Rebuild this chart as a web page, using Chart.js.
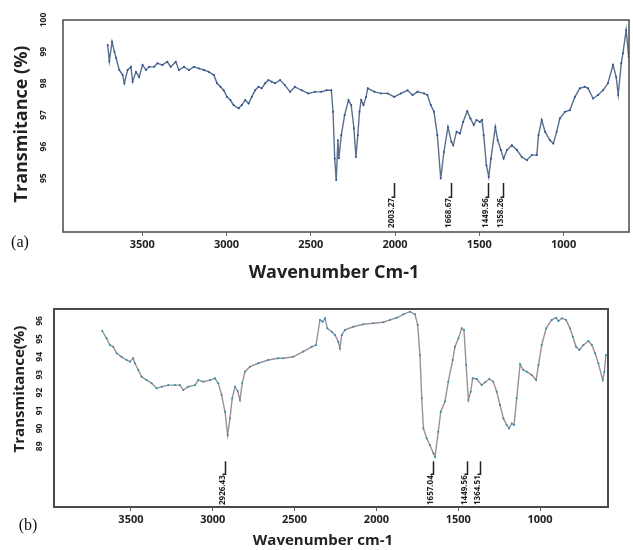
<!DOCTYPE html>
<html lang="en">
<head>
  <meta charset="UTF-8" />
  <title>FTIR spectra (a) and (b)</title>
  <script src="https://cdn.jsdelivr.net/npm/chart.js"></script>
  <style>
    body { margin: 0; background: #fff; width: 633px; height: 550px; position: relative; overflow: hidden }
    canvas { position: absolute; left: 0 }
    #chartA { top: 0 }
    #chartB { top: 285px }
  </style>
</head>
<body>
  <canvas id="chartA" width="633" height="285"></canvas>
  <canvas id="chartB" width="633" height="265"></canvas>

  <script>
    // ---- spectrum (a) ----
    const waveA = [3705,3695,3679,3665,3655,3636,3616,3606,3587,3567,3557,3537,3518,3498,3478,3459,3429,3410,3380,3351,
      3331,3301,3282,3252,3223,3193,3164,3134,3105,3075,3056,3036,3017,2997,2977,2958,2928,2909,2889,2869,
      2850,2830,2810,2791,2771,2751,2732,2712,2682,2653,2623,2594,2555,2515,2476,2437,2407,2378,2368,2358,
      2349,2339,2333,2319,2299,2276,2260,2244,2232,2221,2211,2201,2187,2172,2162,2122,2083,2044,2005,1965,
      1926,1896,1867,1828,1808,1788,1769,1749,1729,1710,1686,1666,1655,1635,1615,1596,1572,1553,1533,1517,
      1497,1484,1474,1458,1444,1431,1405,1391,1372,1356,1336,1307,1277,1248,1218,1189,1159,1149,1130,1110,
      1081,1061,1041,1022,992,963,933,904,874,855,825,796,766,737,707,688,676,658,648,629,614];
    const transA = [99.21,98.70,99.31,99.00,98.80,98.42,98.26,98.00,98.42,98.52,98.05,98.36,98.20,98.58,98.42,98.52,98.52,98.63,98.58,98.68,
      98.52,98.68,98.42,98.52,98.42,98.52,98.47,98.42,98.36,98.26,98.00,97.89,97.78,97.57,97.47,97.31,97.21,97.31,97.47,97.36,
      97.57,97.78,97.89,97.84,98.00,98.10,98.05,98.00,98.10,97.94,97.73,97.89,97.78,97.68,97.73,97.73,97.78,97.78,97.10,95.62,
      94.94,96.20,95.63,96.36,97.00,97.47,97.31,96.58,95.67,96.36,97.10,97.47,97.31,97.57,97.84,97.73,97.68,97.68,97.57,97.68,
      97.78,97.63,97.73,97.68,97.63,97.31,97.10,96.36,94.99,95.83,96.62,96.15,96.04,96.47,96.41,96.78,97.12,96.89,96.68,96.84,
      96.78,96.84,96.36,95.41,95.04,95.62,96.62,96.20,95.89,95.62,95.89,96.04,95.89,95.67,95.57,95.73,95.73,96.36,96.84,96.47,
      96.20,96.10,96.47,96.89,97.10,97.15,97.57,97.84,97.89,97.84,97.52,97.63,97.78,98.00,98.58,98.20,97.63,98.63,98.95,99.68,98.84];
    const yTicksA = [95, 96, 97, 98, 99, 100];
    const peaksA = [2003.27, 1668.67, 1449.56, 1358.26];

    // ---- spectrum (b) ----
    const waveB = [3675,3649,3628,3608,3587,3557,3526,3506,3486,3476,3455,3435,3404,3373,3343,3312,3272,3231,3200,3180,
      3150,3109,3089,3058,3017,2987,2966,2946,2925,2909,2895,2881,2864,2848,2834,2820,2803,2773,2722,2661,
      2600,2569,2508,2447,2396,2369,2345,2328,2314,2300,2273,2253,2233,2223,2212,2192,2141,2080,2019,1958,
      1917,1876,1836,1795,1764,1748,1734,1723,1713,1693,1673,1652,1642,1622,1607,1581,1561,1534,1520,1499,
      1479,1465,1452,1438,1424,1412,1387,1357,1336,1310,1286,1265,1245,1224,1204,1190,1173,1159,1143,1122,
      1102,1081,1051,1024,1010,990,963,929,902,888,867,841,817,800,780,760,735,705,684,664,644,617,607,598];
    const transB = [95.44,95.03,94.66,94.56,94.20,94.00,93.82,93.73,93.92,93.64,93.26,92.89,92.70,92.52,92.24,92.33,92.42,92.42,92.42,92.14,
      92.33,92.42,92.70,92.61,92.70,92.80,92.52,91.87,90.93,89.63,90.56,91.68,92.33,92.09,91.59,92.52,93.17,93.45,93.64,93.82,
      93.92,93.92,94.00,94.29,94.56,94.66,96.06,95.96,96.15,95.59,95.40,95.22,94.84,94.47,95.22,95.50,95.68,95.82,95.87,95.93,
      96.06,96.18,96.37,96.52,96.37,95.78,94.10,91.68,90.00,89.45,89.07,88.61,88.42,89.82,90.93,91.50,92.61,93.82,94.56,95.03,
      95.59,95.50,93.54,91.59,92.05,92.80,92.76,92.42,92.58,92.76,92.61,92.05,91.31,90.56,90.19,90.00,90.28,90.19,91.68,93.58,
      93.26,93.17,92.98,92.70,93.54,94.66,95.59,96.06,96.18,96.00,96.15,96.06,95.59,95.12,94.56,94.38,94.66,94.88,94.66,94.20,
      93.64,92.70,93.17,94.10];
    const yTicksB = [89, 90, 91, 92, 93, 94, 95, 96];
    const peaksB = [2926.43, 1657.04, 1449.56, 1364.51];

    const xTicks = [3500, 3000, 2500, 2000, 1500, 1000];

    // frame, rotated y labels, peak markers and titles
    const extras = {
      id: 'extras',
      afterDraw(chart, args, o) {
        const { ctx, chartArea: a, scales: { x, y } } = chart;
        ctx.save();
        ctx.strokeStyle = '#4a4a4a';
        ctx.lineWidth = o.frameWidth;
        ctx.strokeRect(a.left, a.top, a.right - a.left, a.bottom - a.top);

        ctx.fillStyle = '#1e1e1e';
        ctx.font = 'bold 8.5px "Open Sans"';
        ctx.textAlign = 'center';
        ctx.textBaseline = 'middle';
        o.yTicks.forEach(v => {
          ctx.save();
          ctx.translate(o.tickX, y.getPixelForValue(v));
          ctx.rotate(-Math.PI / 2);
          ctx.fillText(String(v), 0, 0);
          ctx.restore();
        });

        // peak markers
        const top = y.getPixelForValue(o.markTop), bot = y.getPixelForValue(o.markBottom);
        ctx.strokeStyle = '#222';
        ctx.lineWidth = 1.5;
        ctx.font = 'bold 8px "Open Sans"';
        ctx.textAlign = 'right';
        ctx.textBaseline = 'alphabetic';
        o.peaks.forEach(p => {
          const px = Math.round(x.getPixelForValue(p)) + 0.5;
          ctx.beginPath();
          ctx.moveTo(px, top); ctx.lineTo(px, bot); ctx.lineTo(px - 3, bot);
          ctx.stroke();
          ctx.save();
          ctx.translate(px - 1, bot + 1);
          ctx.rotate(-Math.PI / 2);
          ctx.fillText(p.toFixed(2), 0, 0);
          ctx.restore();
        });

        // titles
        ctx.fillStyle = '#222';
        ctx.textAlign = 'center';
        ctx.textBaseline = 'middle';
        ctx.font = o.titleFont;
        ctx.fillText(o.xTitle, o.xTitlePos[0], o.xTitlePos[1]);
        ctx.save();
        ctx.translate(o.yTitlePos[0], o.yTitlePos[1]);
        ctx.rotate(-Math.PI / 2);
        ctx.fillText(o.yTitle, 0, 0);
        ctx.restore();
        ctx.font = '16px "Liberation Serif"';
        ctx.fillStyle = '#111';
        ctx.fillText(o.panel, o.panelPos[0], o.panelPos[1]);
        ctx.restore();
      }
    };

    function makeChart(id, waves, trans, cfg) {
      new Chart(document.getElementById(id), {
        type: 'line',
        data: {
          datasets: [{
            data: waves.map((w, i) => ({ x: w, y: trans[i] })),
            borderColor: cfg.line,
            borderWidth: 1.4,
            pointRadius: 1,
            pointBackgroundColor: cfg.dots,
            pointBorderWidth: 0,
            tension: 0
          }]
        },
        options: {
          responsive: false,
          animation: false,
          layout: { padding: { top: cfg.padTop, right: cfg.padRight, left: 0, bottom: 0 } },
          plugins: { legend: { display: false }, tooltip: { enabled: false }, extras: cfg.extras },
          scales: {
            x: {
              type: 'linear',
              reverse: true,
              min: cfg.xMin,
              max: 3970,
              afterBuildTicks: s => { s.ticks = xTicks.map(v => ({ value: v })); },
              afterFit: s => { s.height = cfg.xHeight; },
              ticks: { callback: v => String(v), font: { family: 'Open Sans', weight: 'bold', size: 11 }, color: '#222', padding: 2, maxRotation: 0 },
              grid: { drawOnChartArea: false, tickLength: 4, color: '#666' },
              border: { display: false }
            },
            y: {
              min: cfg.yMin,
              max: cfg.yMax,
              afterFit: s => { s.width = cfg.yWidth; },
              ticks: { display: false },
              grid: { display: false },
              border: { display: false }
            }
          }
        },
        plugins: [extras]
      });
    }

    makeChart('chartA', waveA, transA, {
      line: '#5a6f8c', dots: '#26509a', padTop: 20, padRight: 0, xMin: 612, xHeight: 53, yWidth: 63,
      yMin: 93.3, yMax: 100,
      extras: {
        frameWidth: 1.5, yTicks: yTicksA, tickX: 44, peaks: peaksA, markTop: 94.85, markBottom: 94.4,
        titleFont: 'bold 18px "Open Sans"', xTitle: 'Wavenumber Cm-1', xTitlePos: [334, 273],
        yTitle: 'Transmitance (%)', yTitlePos: [22, 124], panel: '(a)', panelPos: [20, 243]
      }
    });

    makeChart('chartB', waveB, transB, {
      line: '#9a9197', dots: '#2b8db0', padTop: 24, padRight: 25, xMin: 585, xHeight: 43, yWidth: 54,
      yMin: 85.61, yMax: 96.67,
      extras: {
        frameWidth: 2, yTicks: yTicksB, tickX: 40, peaks: peaksB, markTop: 88.16, markBottom: 87.44,
        titleFont: 'bold 15px "Open Sans"', xTitle: 'Wavenumber cm-1', xTitlePos: [323, 256],
        yTitle: 'Transmitance(%)', yTitlePos: [20, 104], panel: '(b)', panelPos: [28, 241]
      }
    });
  </script>
</body>
</html>
